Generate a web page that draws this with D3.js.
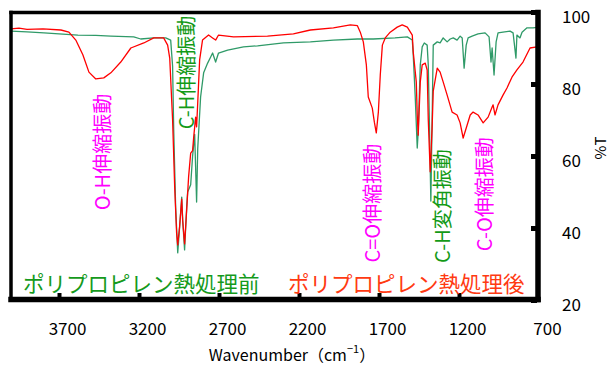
<!DOCTYPE html>
<html>
<head>
<meta charset="utf-8">
<script src="https://cdn.jsdelivr.net/npm/d3@7"></script>
<style>
  html, body { margin: 0; padding: 0; background: #fff; }
  svg { display: block; }
</style>
</head>
<body>
<div id="chart"></div>
<script>
// IR spectra of polypropylene, before / after heat treatment  [wavenumber, %T]
const beforeSpectrum = [
  [4000, 94.7], [3900, 94.5], [3794, 94.2], [3700, 93.9], [3582, 93.6], [3470, 93.5],
  [3376, 93.3], [3233, 93.1], [3189, 92.5], [3108, 92.8], [3033, 92.8], [3002, 92.2],
  [2990, 85], [2983, 67.2], [2971, 45.8], [2958, 33.1], [2946, 40.3], [2933, 48.6],
  [2927, 42.2], [2915, 33.9], [2902, 45.8], [2896, 50], [2877, 52], [2865, 60],
  [2852, 66], [2840, 47.2], [2833, 62], [2815, 76.4], [2796, 83.1], [2771, 85.8],
  [2752, 87.5], [2740, 88.6], [2721, 86.1], [2703, 88.6], [2646, 89.4], [2547, 90.3],
  [2459, 90.6], [2297, 91.4], [2129, 91.7], [1985, 92.2], [1835, 92.5], [1736, 92.5],
  [1600, 92.8], [1523, 93.1], [1492, 92.2], [1486, 88.1], [1474, 76.9], [1461, 62.2],
  [1455, 66.7], [1442, 85.3], [1430, 90.3], [1417, 91.4], [1399, 90.8], [1392, 85.3],
  [1386, 71.4], [1376, 47.5], [1368, 70], [1361, 90.8], [1336, 91.7], [1318, 91.4],
  [1299, 92.8], [1274, 91.7], [1255, 92.5], [1236, 92.8], [1212, 92.2], [1193, 93.3],
  [1180, 92.8], [1168, 84.4], [1155, 90.8], [1143, 92.8], [1118, 93.3], [1081, 93.9],
  [1037, 94.2], [1012, 93.1], [1000, 86.1], [993, 90.0], [981, 82.5], [968, 91.7],
  [956, 94.2], [925, 94.4], [881, 94.7], [862, 94.2], [844, 87.2], [838, 93.6],
  [819, 92.8], [806, 94.4], [775, 95.6], [737, 95.6], [700, 95.8]
];

const afterSpectrum = [
  [4000, 95.3], [3950, 95.5], [3900, 95.2], [3800, 95.3], [3688, 95.0], [3638, 94.4],
  [3595, 92.2], [3551, 88.1], [3513, 83.3], [3470, 81.4], [3420, 81.7], [3376, 83.1],
  [3314, 86.1], [3251, 90.0], [3170, 91.4], [3108, 92.8], [3046, 92.8], [3021, 90.8],
  [3008, 87.2], [2990, 70], [2977, 51.4], [2965, 38.6], [2958, 35.3], [2946, 40.5],
  [2933, 48], [2927, 42], [2915, 35.6], [2902, 45], [2890, 54.2], [2877, 60.8],
  [2865, 61.5], [2858, 65.3], [2846, 70.8], [2840, 68.1], [2833, 74.7], [2821, 86.7],
  [2803, 92.2], [2765, 93.6], [2740, 92.8], [2721, 92.2], [2703, 93.6], [2609, 93.1],
  [2397, 93.3], [2235, 93.9], [2129, 95.0], [1985, 95.6], [1879, 96.4], [1835, 96.2],
  [1817, 94.4], [1798, 91.7], [1779, 85.3], [1767, 76.4], [1742, 73.3], [1729, 69.4],
  [1717, 66.4], [1704, 72.2], [1692, 82.5], [1679, 90.8], [1661, 92.8], [1630, 94.4],
  [1586, 95.8], [1555, 96.4], [1523, 95.8], [1492, 93.6], [1486, 88.9], [1467, 80.6],
  [1461, 71.4], [1455, 65.8], [1442, 80.6], [1430, 85.3], [1411, 85.8], [1399, 83.9],
  [1392, 70], [1380, 55.6], [1368, 68], [1361, 78], [1336, 84.4], [1318, 83.3],
  [1299, 80.6], [1274, 76.9], [1243, 72.2], [1212, 71.4], [1193, 69.2], [1174, 65.0],
  [1149, 68.6], [1130, 71.4], [1112, 72.2], [1081, 71.4], [1049, 69.2], [1018, 70.8],
  [993, 73.6], [987, 74.2], [975, 71.4], [956, 74.2], [925, 76.9], [900, 78.9],
  [869, 81.9], [838, 83.9], [800, 86.1], [756, 90.0], [713, 90.3], [700, 90.3]
];

const xTicks = [3700, 3200, 2700, 2200, 1700, 1200, 700];
const yTicks = [20, 40, 60, 80, 100];

const seriesNames = ['ポリプロピレン熱処理前', 'ポリプロピレン熱処理後'];

// band annotations: [label, wavenumber of label centre, %T of label centre, group]
const bandLabels = [
  ['O-H伸縮振動', 3437, 61.1, 'o'],
  ['C-H伸縮振動', 2912, 83.2, 'c'],
  ['C=O伸縮振動', 1744, 46.9, 'o'],
  ['C-H変角振動', 1312, 46.1, 'c'],
  ['C-O伸縮振動', 1044, 49.4, 'o']
];

const W = 609, H = 365;
const font = '"Noto Sans CJK JP", "Noto Sans", sans-serif';

const x = d3.scaleLinear().domain([4000, 700]).range([11, 539]);
const y = d3.scaleLinear().domain([20, 100]).range([300, 12]);

const svg = d3.select('#chart').append('svg')
  .attr('width', W)
  .attr('height', H)
  .style('font-family', font);

svg.append('rect').attr('width', W).attr('height', H).attr('fill', '#fff');

const line = d3.line()
  .x(d => x(d[0]))
  .y(d => y(d[1]));

svg.append('path')
  .datum(beforeSpectrum)
  .attr('fill', 'none')
  .attr('stroke', '#2f9a68')
  .attr('stroke-width', 1.3)
  .attr('stroke-linejoin', 'round')
  .attr('d', line);

svg.append('path')
  .datum(afterSpectrum)
  .attr('fill', 'none')
  .attr('stroke', '#ff0000')
  .attr('stroke-width', 1.3)
  .attr('stroke-linejoin', 'round')
  .attr('d', line);

// frame: thin top/left, heavy right/bottom
const frame = svg.append('g').attr('stroke', '#000').attr('stroke-linecap', 'square');
frame.append('line').attr('x1', 11).attr('x2', 538).attr('y1', 12.5).attr('y2', 12.5).attr('stroke-width', 3.5);
frame.append('line').attr('x1', 11).attr('x2', 11).attr('y1', 12.5).attr('y2', 299.5).attr('stroke-width', 3.5);
frame.append('line').attr('x1', 538).attr('x2', 538).attr('y1', 12.5).attr('y2', 299.5).attr('stroke-width', 5.5);
frame.append('line').attr('x1', 11).attr('x2', 538).attr('y1', 299.5).attr('y2', 299.5).attr('stroke-width', 5.5);

// inward tick marks
svg.append('g')
  .attr('transform', 'translate(0,298)')
  .call(d3.axisBottom(x).tickValues(xTicks.slice(0, -1)).tickSize(-5).tickFormat(''))
  .call(g => g.select('.domain').remove())
  .call(g => g.selectAll('.tick line').attr('stroke-width', 4));

svg.append('g')
  .attr('transform', 'translate(537,0)')
  .call(d3.axisLeft(y).tickValues(yTicks).tickSize(-6).tickFormat(''))
  .call(g => g.select('.domain').remove())
  .call(g => g.selectAll('.tick line').attr('stroke-width', 5).attr('transform', 'scale(-1,1)'));

// tick labels
svg.append('g')
  .attr('transform', 'translate(8,297)')
  .call(d3.axisBottom(x).tickValues(xTicks).tickSize(0).tickPadding(26).tickFormat(d3.format('d')))
  .call(g => g.select('.domain').remove())
  .call(g => g.selectAll('text')
    .attr('fill', '#000')
    .style('font-family', font)
    .style('font-size', '17px'));

svg.append('g')
  .attr('transform', 'translate(562,5.5)')
  .call(d3.axisRight(y).tickValues(yTicks).tickSize(0).tickPadding(0))
  .call(g => g.select('.domain').remove())
  .call(g => g.selectAll('text')
    .attr('fill', '#000')
    .style('font-family', font)
    .style('font-size', '17px'));

// axis titles
const xt = svg.append('text')
  .attr('x', 292)
  .attr('y', 354)
  .attr('text-anchor', 'middle')
  .attr('dominant-baseline', 'central')
  .style('font-size', '16px');
xt.append('tspan').text('Wavenumber（cm');
xt.append('tspan').attr('dy', -6).style('font-size', '11px').text('−1');
xt.append('tspan').attr('dy', 6).text('）');

svg.append('text')
  .attr('transform', 'translate(599,148) rotate(-90)')
  .attr('text-anchor', 'middle')
  .attr('dominant-baseline', 'central')
  .style('font-size', '15px')
  .text('%T');

// series names
svg.append('text')
  .attr('x', 23).attr('y', 282)
  .attr('dominant-baseline', 'central')
  .attr('fill', '#159a1c')
  .style('font-size', '21.5px')
  .text(seriesNames[0]);

svg.append('text')
  .attr('x', 288).attr('y', 282)
  .attr('dominant-baseline', 'central')
  .attr('fill', '#ff3a12')
  .style('font-size', '21.5px')
  .text(seriesNames[1]);

// vertical band labels
svg.append('g')
  .selectAll('text')
  .data(bandLabels)
  .join('text')
  .attr('transform', d => `translate(${x(d[1])},${y(d[2])}) rotate(-90)`)
  .attr('text-anchor', 'middle')
  .attr('dominant-baseline', 'central')
  .attr('fill', d => d[3] === 'o' ? '#ff00ff' : '#139a16')
  .style('font-size', '20px')
  .text(d => d[0]);
</script>
</body>
</html>
